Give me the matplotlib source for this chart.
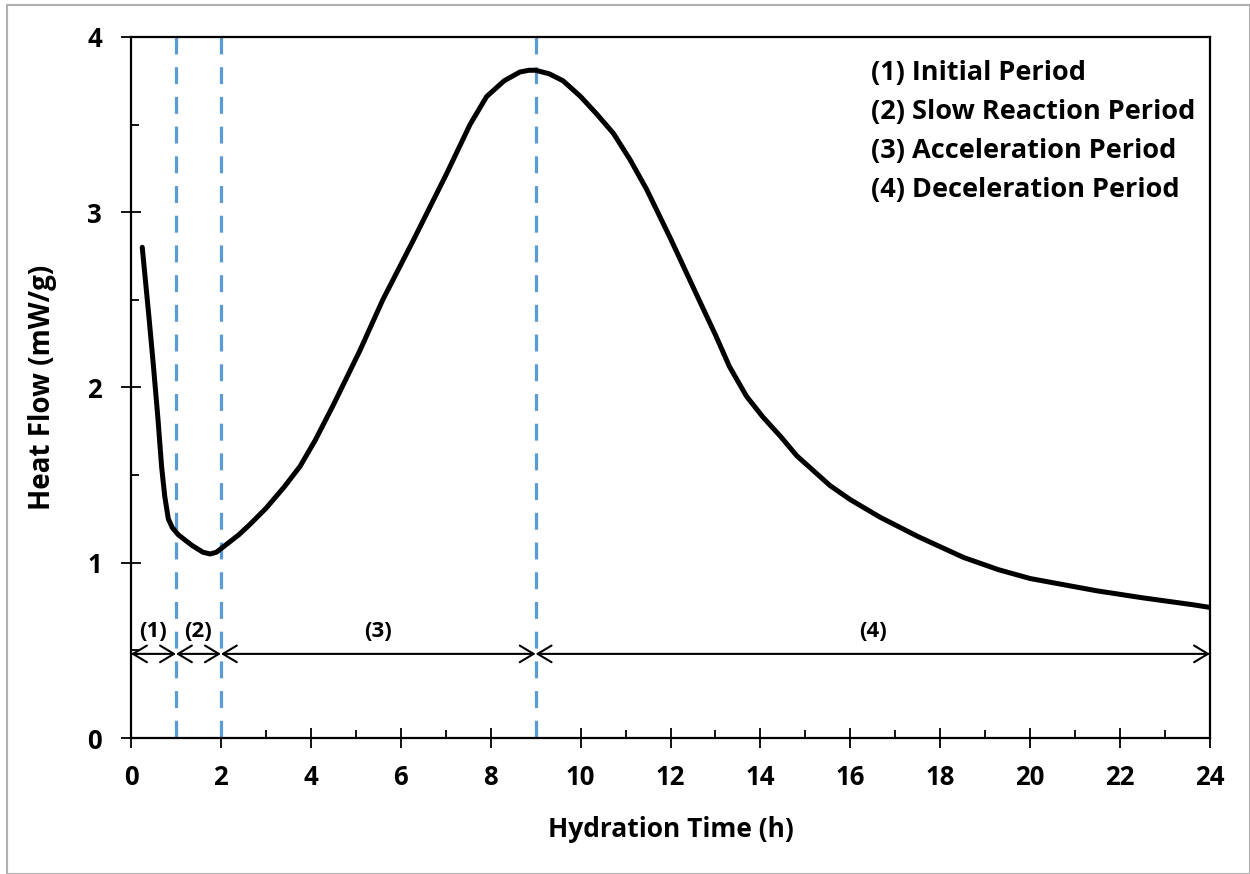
import matplotlib
matplotlib.use('Agg')
import matplotlib.pyplot as plt
from matplotlib.patches import Rectangle
from matplotlib.ticker import MultipleLocator

plt.rcParams['font.family'] = ['Open Sans', 'DejaVu Sans']
plt.rcParams['font.weight'] = 'bold'

# heat flow curve
time_h = [0.25, 0.4, 0.5, 0.6, 0.68, 0.75, 0.83, 0.92, 1.05, 1.35, 1.6, 1.76, 1.9,
          2.05, 2.4, 2.65, 3.0, 3.4, 3.76, 4.1, 4.5, 5.09, 5.6, 6.28, 7.02, 7.54,
          7.91, 8.3, 8.65, 8.85, 9.0, 9.3, 9.61, 10.0, 10.36, 10.73, 11.1, 11.47,
          12.0, 12.58, 13.0, 13.31, 13.69, 14.06, 14.45, 14.81, 15.55, 16.0, 16.66,
          17.5, 18.52, 19.3, 20.0, 21.48, 22.5, 23.63, 24.0]
heat_flow = [2.80, 2.40, 2.12, 1.82, 1.55, 1.38, 1.25, 1.20, 1.16, 1.10, 1.06, 1.05, 1.06,
             1.09, 1.16, 1.22, 1.31, 1.43, 1.55, 1.70, 1.90, 2.21, 2.50, 2.84, 3.22, 3.50,
             3.66, 3.75, 3.80, 3.81, 3.81, 3.79, 3.75, 3.66, 3.56, 3.45, 3.30, 3.13,
             2.85, 2.53, 2.30, 2.12, 1.95, 1.83, 1.72, 1.61, 1.44, 1.36, 1.26,
             1.15, 1.03, 0.96, 0.91, 0.84, 0.80, 0.76, 0.745]

# period boundaries (h) and labels
boundaries = [1, 2, 9]
period_edges = [0, 1, 2, 9, 24]
period_tags = ['(1)', '(2)', '(3)', '(4)']
arrow_y = 0.48
tag_y = 0.605
legend_lines = ['(1) Initial Period', '(2) Slow Reaction Period',
                '(3) Acceleration Period', '(4) Deceleration Period']

fig = plt.figure(figsize=(12.5, 8.74), dpi=100)
ax = fig.add_axes([0.1048, 0.1556, 0.8632, 0.8021])

ax.plot(time_h, heat_flow, color='black', lw=3.6, solid_joinstyle='round',
        solid_capstyle='round', zorder=3)

for b in boundaries:
    ax.plot([b, b], [4, 0], color='#5B9BD5', lw=2.3,
            linestyle=(0, (5.3, 4.0)), zorder=2)

for i, tag in enumerate(period_tags):
    x0, x1 = period_edges[i], period_edges[i + 1]
    ax.annotate('', xy=(x1, arrow_y), xytext=(x0, arrow_y),
                arrowprops=dict(arrowstyle='<->,head_length=0.5,head_width=0.3',
                                lw=1.5, color='black', shrinkA=0, shrinkB=0,
                                mutation_scale=20))
    ax.text((x0 + x1) / 2, tag_y, tag, ha='center', va='center',
            fontsize=16, fontweight='bold')

for k, line in enumerate(legend_lines):
    ax.text(0.686, 0.948 - k * 0.0555, line, transform=ax.transAxes,
            ha='left', va='center', fontsize=19.5, fontweight='bold')

ax.set_xlim(0, 24)
ax.set_ylim(0, 4)
ax.xaxis.set_major_locator(MultipleLocator(2))
ax.xaxis.set_minor_locator(MultipleLocator(1))
ax.yaxis.set_major_locator(MultipleLocator(1))
ax.yaxis.set_minor_locator(MultipleLocator(0.5))
ax.tick_params(which='major', direction='inout', length=14, width=1.3,
               labelsize=18.5)
ax.tick_params(which='minor', direction='in', length=6, width=1.3)
ax.tick_params(axis='x', which='major', pad=12)
ax.tick_params(axis='y', which='major', pad=14)
for sp in ax.spines.values():
    sp.set_linewidth(1.6)

ax.set_xlabel('Hydration Time (h)', fontsize=19, fontweight='bold', labelpad=18)
ax.set_ylabel('Heat Flow (mW/g)', fontsize=20, fontweight='bold', labelpad=22)

fig.patches.append(Rectangle((0.0056, 0.0), 0.9944, 0.994, transform=fig.transFigure,
                             fill=False, edgecolor='#b0b0b0', lw=1.5))

fig.savefig('out.png', dpi=100)
